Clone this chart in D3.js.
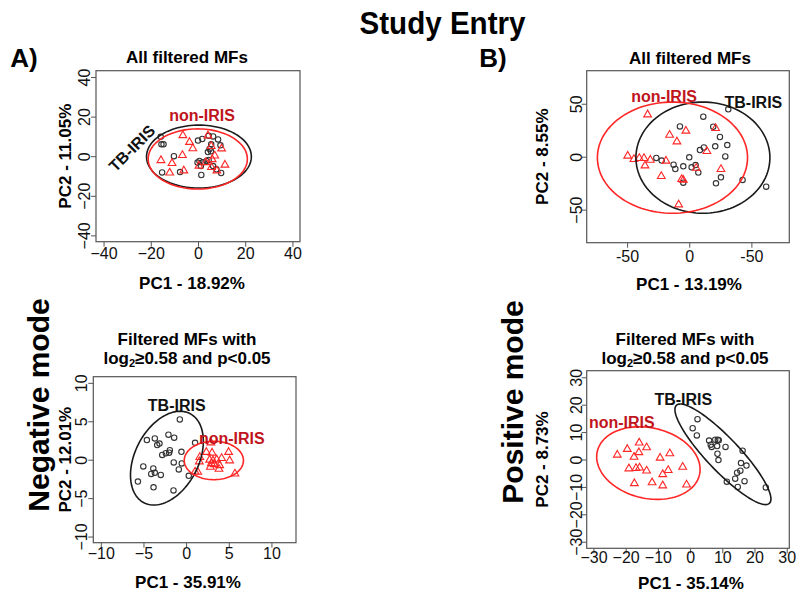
<!DOCTYPE html>
<html><head><meta charset="utf-8">
<script src="https://cdn.jsdelivr.net/npm/d3@7"></script>
<style>
body{margin:0;background:#fff}
svg{display:block}
text{font-family:"Liberation Sans",Arial,Helvetica,sans-serif}
</style>
</head><body>
<svg id="chart" width="800" height="595"></svg>
<script>
// ---------- DATA ----------
const groups = ["TB-IRIS", "non-IRIS"];

// Negative mode, all filtered MFs  (PC1 - 18.92%, PC2 - 11.05%)
const negAllTB = [[-15.8,9.8],[-15.5,6],[-14.6,6],[-10.2,0],[-15.2,-8.2],[-7.6,-8],[0,7.9],[1.8,8.7],[4.5,10.3],[6.4,10],[8.5,8.5],[5.6,6],[4.9,3.6],[5.5,2.5],[4.2,2.1],[9.5,5.5],[-0.2,-3.2],[0.6,-2.4],[2,-3.1],[3.6,-2.4],[4.5,-1.9],[1.4,-9.5],[6.4,-5],[7.8,-6.6],[9.8,-8.5],[1.2,-5]];
const negAllNon = [[-6.4,10.8],[-3.6,7.4],[-2.2,4.2],[4.2,10.7],[5.6,5.3],[10,4.1],[-15.7,-1.8],[-11,-3.3],[-6.6,0.8],[-12,-8.1],[-6,-7],[0.4,-4.6],[3.3,-2.8],[6,-1.3],[7.1,0.5],[5.7,-5.3],[8,-7],[11.4,-4.1]];
// ellipse: [cx, cy, ax, ay, by]
const negAllEllTB = [0.4, -0.2, 22.2, 0, 15.9];
const negAllEllNon = [-0.1, -1.4, 21.0, 0, 15.2];

// Positive mode, all filtered MFs  (PC1 - 13.19%, PC2 - 8.55%)
const posAllTB = [[31.4,44.7],[11.3,37.8],[-7.5,28.6],[19.3,28.3],[24.7,18.6],[30.6,11],[8.6,6.3],[11.8,8.8],[20.9,9.8],[29,0.3],[0,-0.6],[-26.5,-1.2],[-22.2,-3.7],[-12.6,-7.5],[-11.2,-11.6],[-4.8,-9.1],[1.9,-10],[5.1,-7.9],[7.3,-15],[-4.8,-24.5],[25.5,-19.5],[21.5,-25.1],[42.9,-21.9],[61.9,-28.3]];
const posAllNon = [[-33.5,40.3],[-15.8,21.1],[-2.7,24.9],[-9.9,14.8],[21.2,27.4],[14.2,5.7],[-49.5,1.3],[-44.5,-1.8],[-40.2,-0.9],[-36.4,-0.9],[-31.3,-2.5],[-35.6,-7.9],[-18.7,-3.4],[-22.5,-17.9],[-6.1,-20.8],[-4.8,-21.5],[5.6,-10.1],[25.5,-11.3],[-8.5,-44.7]];
const posAllEllTB = [11, -0.9, 53.9, 0, 52.5];
const posAllEllNon = [-13.5, -0.9, 60.4, 0, 52.5];

// Negative mode, filtered log2>=0.58 & p<0.05  (PC1 - 35.91%, PC2 - 12.01%)
const negFiltTB = [[-0.74,5.24],[-4.6,2.56],[-3.67,2.77],[-3.39,1.9],[-3.12,2.1],[-2.07,3.26],[-1.4,2.86],[-2.8,0.62],[-2.38,0.84],[-1.99,0.92],[-1.91,1.24],[-0.55,1.02],[1.05,2.2],[-1.45,-0.35],[-0.51,-0.48],[-0.86,-1.27],[-5.02,-0.87],[-3.85,-1.14],[-4.09,-1.85],[-3.67,-1.71],[-2.97,-1.98],[-5.65,-2.85],[-3.82,-3.6],[-1.48,-4.0],[0.31,-2.1]];
const negFiltNon = [[2.9,2.3],[3.04,0.97],[2.37,1.06],[1.6,0.4],[1.55,-0.17],[2.76,0.05],[3.15,-0.04],[3.58,0.09],[4.16,0.27],[4.98,1.06],[5.1,-0.04],[2.96,-0.4],[3.3,-0.53],[3.93,-0.66],[3.85,-1.14],[2.84,-0.87],[1.36,-1.53],[1.05,-1.5],[5.72,-1.75]];
const negFiltEllTB = [-2.25, 0.2, 4.27, 2.2, 5.69];
const negFiltEllNon = [3.25, -0.1, 3.47, 0, 2.5];

// Positive mode, filtered log2>=0.58 & p<0.05  (PC1 - 35.14%, PC2 - 8.73%)
const posFiltTB = [[2.3,14.7],[0.8,11.4],[2.1,8.8],[5.9,6.9],[7.8,7.2],[8.6,7.2],[8.9,7.0],[6.4,5.4],[6.7,4.6],[8.4,4.9],[11.0,4.6],[8.5,2.1],[8.8,-0.2],[16.3,3.2],[15.8,-1.3],[17.5,-2.2],[15.6,-4.1],[14.6,-4.8],[14.0,-7.0],[16.9,-7.9],[11.4,-8.1],[14.8,-10],[23.5,-10.2]];
const posFiltNon = [[-15.8,6.3],[-13.5,4.6],[-22.6,1.9],[-19.5,4],[-17.4,1.1],[-15.9,2.8],[-9.3,0.8],[-6.3,2.4],[-19,-3.1],[-16.8,-3],[-15.7,-2.8],[-13.5,-3.9],[-8.5,-5.2],[-6.8,-3.7],[-2.3,-2.5],[-17.3,-8.5],[-11.8,-8.2],[-8.5,-9.3],[-1.1,-9]];
const posFiltEllTB = [10.2, 1.9, 14.9, -16.3, 8.43];
const posFiltEllNon = [-12.95, -1.3, 16.05, -2.3, 13.05];

// tick values and labels
const ticksNegAll = [-40,-20,0,20,40];
const ticksPosAllX = [-50,0,50];
const tickLabelsPosAllX = ["-50","0","-50"];
const ticksPosAllY = [-50,0,50];
const ticksNegFilt = [-10,-5,0,5,10];
const ticksPosFilt = [-30,-20,-10,0,10,20,30];

const mainTitle = "Study Entry";
const rowLabels = ["Negative mode", "Positive mode"];
const panelLetters = ["A)", "B)"];
const titleAll = "All filtered MFs";
const axisLabels = {
  negAll: ["PC1 - 18.92%", "PC2 - 11.05%"],
  posAll: ["PC1 - 13.19%", "PC2 - 8.55%"],
  negFilt: ["PC1 - 35.91%", "PC2 - 12.01%"],
  posFilt: ["PC1 - 35.14%", "PC2 - 8.73%"]
};

// ---------- LAYOUT ----------
const BLACK = "#1a1a1a", RED = "#ff2626", RED_LAB = "#c0141c";
const panels = [
  {key:"negAll", frame:{l:96,r:300,t:70.7,b:241.7}, xdom:[-43.2,43.2], ydom:[-43.2,43.2],
   xt:ticksNegAll, yt:ticksNegAll, title:[titleAll], titleX:187, titleY:63,
   tb:negAllTB, non:negAllNon, eTB:negAllEllTB, eNon:negAllEllNon,
   tbLab:[-28,4,-45], nonLab:[1.7,20.8,0], xtO:19, xlO:47, xlX:192, ytO:12, ylO:31},
  {key:"posAll", frame:{l:586.7,r:789.3,t:70.7,b:242.7}, xdom:[-82.5,80.5], ydom:[-81.2,81.2],
   xt:ticksPosAllX, xtl:tickLabelsPosAllX, yt:ticksPosAllY, title:[titleAll], titleX:690, titleY:64,
   tb:posAllTB, non:posAllNon, eTB:posAllEllTB, eNon:posAllEllNon,
   tbLab:[51.6,51.4,0], nonLab:[-20.2,57.3,0], xtO:21, xlO:47, xlX:689, ytO:10, ylO:45},
  {key:"negFilt", frame:{l:93.3,r:296,t:376.7,b:542.7}, xdom:[-10.88,12.88], ydom:[-10.8,10.8],
   xt:ticksNegFilt, yt:ticksNegFilt, title:["Filtered MFs with","log2"], titleX:187, titleY:345,
   tb:negFiltTB, non:negFiltNon, eTB:negFiltEllTB, eNon:negFiltEllNon,
   tbLab:[-1.1,7.1,0], nonLab:[5.35,2.8,0], xtO:18, xlO:45, xlX:188, ytO:12, ylO:28},
  {key:"posFilt", frame:{l:586.7,r:789.3,t:370.7,b:548.3}, xdom:[-32.1,30.8], ydom:[-32.4,32.4],
   xt:ticksPosFilt, yt:ticksPosFilt, title:["Filtered MFs with","log2"], titleX:685, titleY:345,
   tb:posFiltTB, non:posFiltNon, eTB:posFiltEllTB, eNon:posFiltEllNon,
   tbLab:[-2.1,22,0], nonLab:[-21.2,13.4,0], xtO:16, xlO:41, xlX:691, ytO:10, ylO:45}
];

const svg = d3.select("#chart");

// main title
svg.append("text").attr("x", 442.5).attr("y", 34).attr("text-anchor","middle")
  .attr("font-size", 31).attr("font-weight","bold")
  .attr("textLength", 166).attr("lengthAdjust","spacingAndGlyphs")
  .text(mainTitle);

// panel letters
[[24,67],[493,67]].forEach((p,i)=>{
  svg.append("text").attr("x",p[0]).attr("y",p[1]).attr("text-anchor","middle")
    .attr("font-size",26).attr("font-weight","bold").text(panelLetters[i]);
});
// row labels
[[38,405],[512,402]].forEach((p,i)=>{
  svg.append("text").attr("transform",`translate(${p[0]+11},${p[1]}) rotate(-90)`)
    .attr("text-anchor","middle").attr("font-size",30).attr("font-weight","bold")
    .text(rowLabels[i]);
});

const tri = d3.symbol().type(d3.symbolTriangle).size(26);

panels.forEach(P=>{
  const f = P.frame;
  const x = d3.scaleLinear().domain(P.xdom).range([f.l, f.r]);
  const y = d3.scaleLinear().domain(P.ydom).range([f.b, f.t]);
  const g = svg.append("g");

  // axes
  const xAxis = d3.axisBottom(x).tickValues(P.xt).tickSize(5).tickPadding(4)
    .tickFormat((d,i)=> P.xtl ? P.xtl[i] : d3.format("d")(d));
  const gx = g.append("g").attr("transform",`translate(0,${f.b})`).call(xAxis);
  gx.select(".domain").remove();
  gx.selectAll(".tick line").attr("stroke","#555");
  gx.selectAll(".tick text").attr("font-size",16).attr("fill","#111")
    .attr("font-family",'"Liberation Sans",Arial,sans-serif')
    .attr("y", P.xtO - 13).attr("dy","0.71em");

  const yAxis = d3.axisLeft(y).tickValues(P.yt).tickSize(5).tickFormat(d3.format("d"));
  const gy = g.append("g").attr("transform",`translate(${f.l},0)`).call(yAxis);
  gy.select(".domain").remove();
  gy.selectAll(".tick line").attr("stroke","#555");
  gy.selectAll(".tick text").attr("font-size",16).attr("fill","#111")
    .attr("font-family",'"Liberation Sans",Arial,sans-serif')
    .attr("x",null).attr("dy",null)
    .attr("text-anchor","middle")
    .attr("transform",`translate(${-P.ytO},0) rotate(-90)`)
    .attr("dy","0.35em");

  // frame
  g.append("rect").attr("x",f.l).attr("y",f.t).attr("width",f.r-f.l).attr("height",f.b-f.t)
    .attr("fill","none").attr("stroke","#555").attr("stroke-width",1.2);

  // points
  g.append("g").selectAll("circle").data(P.tb).join("circle")
    .attr("cx",d=>x(d[0])).attr("cy",d=>y(d[1])).attr("r",2.7)
    .attr("fill","none").attr("stroke","#333").attr("stroke-width",1.1);
  g.append("g").selectAll("path").data(P.non).join("path")
    .attr("d",tri).attr("transform",d=>`translate(${x(d[0])},${y(d[1])+0.6})`)
    .attr("fill","none").attr("stroke",RED).attr("stroke-width",1.1);

  // ellipses
  const ell = e => d3.range(0,120).map(i=>{
    const t = i/120*2*Math.PI;
    return [x(e[0]+e[2]*Math.cos(t)), y(e[1]+e[3]*Math.cos(t)+e[4]*Math.sin(t))];
  });
  const line = d3.line().curve(d3.curveLinearClosed);
  g.append("path").attr("d",line(ell(P.eTB))).attr("fill","none").attr("stroke",BLACK).attr("stroke-width",1.6);
  g.append("path").attr("d",line(ell(P.eNon))).attr("fill","none").attr("stroke",RED).attr("stroke-width",1.6);

  // group labels
  g.append("text").attr("transform",`translate(${x(P.tbLab[0])},${y(P.tbLab[1])}) rotate(${P.tbLab[2]})`)
    .attr("text-anchor","middle").attr("dy","0.35em").attr("font-size",16).attr("font-weight","bold")
    .attr("fill","#111").text(groups[0]);
  g.append("text").attr("x",x(P.nonLab[0])).attr("y",y(P.nonLab[1]))
    .attr("text-anchor","middle").attr("dy","0.35em").attr("font-size",16).attr("font-weight","bold")
    .attr("fill",RED_LAB).text(groups[1]);

  // titles
  if (P.title.length === 1) {
    g.append("text").attr("x",P.titleX).attr("y",P.titleY).attr("text-anchor","middle")
      .attr("font-size",17).attr("font-weight","bold").text(P.title[0]);
  } else {
    g.append("text").attr("x",P.titleX).attr("y",P.titleY).attr("text-anchor","middle")
      .attr("font-size",17).attr("font-weight","bold").text(P.title[0]);
    const t2 = g.append("text").attr("x",P.titleX).attr("y",P.titleY+19).attr("text-anchor","middle")
      .attr("font-size",17).attr("font-weight","bold");
    t2.append("tspan").text("log");
    t2.append("tspan").attr("font-size",11).attr("dy",3).text("2");
    t2.append("tspan").attr("dy",-3).text("\u22650.58 and p<0.05");
  }

  // axis labels
  const lab = axisLabels[P.key];
  g.append("text").attr("x",P.xlX).attr("y",f.b+P.xlO).attr("text-anchor","middle")
    .attr("font-size",17).attr("font-weight","bold").text(lab[0]);
  g.append("text").attr("transform",`translate(${f.l-P.ylO},${(f.t+f.b)/2}) rotate(-90)`)
    .attr("text-anchor","middle").attr("dy","0.35em")
    .attr("font-size",17).attr("font-weight","bold").text(lab[1]);
});
</script>
</body></html>
